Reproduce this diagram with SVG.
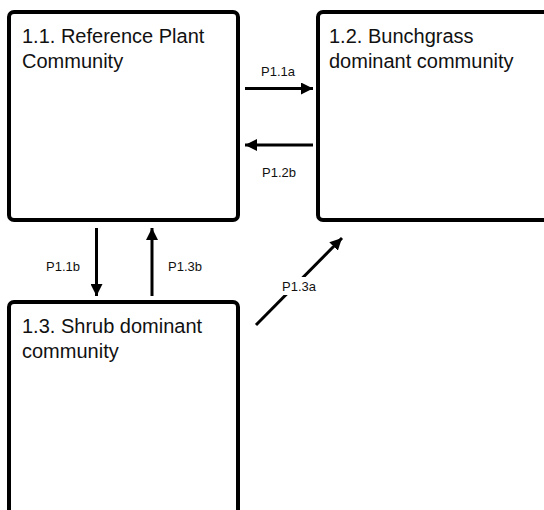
<svg xmlns="http://www.w3.org/2000/svg" width="544" height="510" viewBox="0 0 544 510">
<style>
.box{fill:#fff;stroke:#000;stroke-width:4}
.t{font-family:"Liberation Sans",Arial,sans-serif;font-size:20px;fill:#111}
.l{font-family:"Liberation Sans",Arial,sans-serif;font-size:13px;fill:#111}
.c{stroke:#000;stroke-width:3;fill:none;marker-end:url(#ah)}
</style>
<defs>
<marker id="ah" markerUnits="userSpaceOnUse" viewBox="0 0 12 12" refX="12" refY="6" markerWidth="12" markerHeight="12" orient="auto">
<path d="M0,0 L12,6 L0,12 Z" fill="#000"/>
</marker>
</defs>
<rect width="544" height="510" fill="#fff"/>
<g id="n11">
<rect class="box" x="9" y="12" width="229" height="208" rx="5"/>
<text class="t" x="22" y="43">1.1. Reference Plant</text>
<text class="t" x="22" y="68">Community</text>
</g>
<g id="n12">
<rect class="box" x="318" y="12" width="260" height="208" rx="5"/>
<text class="t" x="329" y="43">1.2. Bunchgrass</text>
<text class="t" x="329" y="68">dominant community</text>
</g>
<g id="n13">
<rect class="box" x="9" y="302" width="229" height="260" rx="5"/>
<text class="t" x="22" y="333">1.3. Shrub dominant</text>
<text class="t" x="22" y="358">community</text>
</g>
<g id="connectors">
<line class="c" x1="245" y1="88.5" x2="313" y2="88.5"/>
<text class="l" x="278" y="76" text-anchor="middle">P1.1a</text>
<line class="c" x1="313" y1="145" x2="245" y2="145"/>
<text class="l" x="279" y="177" text-anchor="middle">P1.2b</text>
<line class="c" x1="96.5" y1="228" x2="96.5" y2="296"/>
<text class="l" x="63" y="271" text-anchor="middle">P1.1b</text>
<line class="c" x1="152" y1="296" x2="152" y2="228"/>
<text class="l" x="185" y="271" text-anchor="middle">P1.3b</text>
<line class="c" x1="256" y1="325" x2="342" y2="238"/>
<rect x="278" y="277" width="42" height="18" fill="#fff"/>
<text class="l" x="299" y="291" text-anchor="middle">P1.3a</text>
</g>
</svg>
